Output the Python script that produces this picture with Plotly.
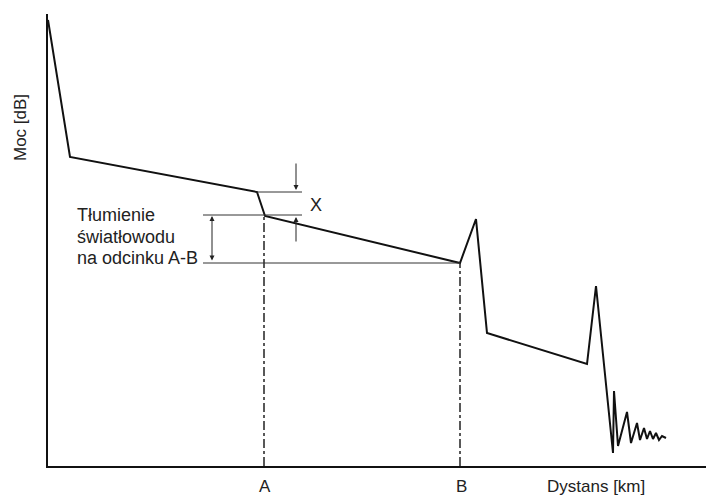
import plotly.graph_objects as go

# OTDR trace (distance, power) in arbitrary units
trace_x = [0, 22, 209, 217, 412, 428, 439, 539, 548, 565, 566, 570, 579, 583, 589,
           592, 596, 599, 602, 605, 608, 611, 614, 618]
trace_y = [446, 309, 274, 250, 203, 247, 133, 102, 180, 13, 75, 20, 54, 23, 43,
           26, 38, 27, 35, 27, 33, 26, 30, 28]

# markers A and B
point_names = ["A", "B"]
point_x = [216, 412]
point_y = [250, 203]

# level lines
level_before_A = 274
level_after_A = 251
level_B = 203

label_lines = ["Tłumienie", "światłowodu", "na odcinku A-B"]

X_MAX = 666
Y_MAX = 452
FONT = "Liberation Sans, Arial, sans-serif"
TXT = "#222222"


def px(x):
    return x / X_MAX


def py(y):
    return y / Y_MAX


fig = go.Figure()
fig.add_trace(go.Scatter(x=trace_x, y=trace_y, mode="lines",
                         line=dict(color="#111111", width=2), hoverinfo="skip"))

shapes = []
for xv, yv in zip(point_x, point_y):
    shapes.append(dict(type="line", x0=xv, x1=xv, y0=0, y1=yv,
                       line=dict(color="#222222", width=1.5, dash="dashdot")))
shapes.append(dict(type="line", x0=209, x1=254, y0=level_before_A, y1=level_before_A,
                   line=dict(color="#333333", width=1)))
shapes.append(dict(type="line", x0=155, x1=254, y0=level_after_A, y1=level_after_A,
                   line=dict(color="#333333", width=1)))
shapes.append(dict(type="line", x0=155, x1=point_x[1], y0=level_B, y1=level_B,
                   line=dict(color="#333333", width=1)))

annotations = []
annotations.append(dict(x=248, y=level_before_A + 2, ax=248, ay=level_before_A + 30,
                        xref="x", yref="y", axref="x", ayref="y", text="",
                        showarrow=True, arrowhead=2, arrowsize=1, arrowwidth=1,
                        arrowcolor="#222222"))
annotations.append(dict(x=248, y=level_after_A - 2, ax=248, ay=level_after_A - 28,
                        xref="x", yref="y", axref="x", ayref="y", text="",
                        showarrow=True, arrowhead=2, arrowsize=1, arrowwidth=1,
                        arrowcolor="#222222"))
annotations.append(dict(x=164, y=level_after_A - 1, ax=164, ay=level_B + 1,
                        xref="x", yref="y", axref="x", ayref="y", text="",
                        showarrow=True, arrowhead=2, startarrowhead=2,
                        arrowside="end+start", arrowsize=1, arrowwidth=1,
                        arrowcolor="#222222"))
annotations.append(dict(x=268, y=261, xref="x", yref="y", text="X", showarrow=False,
                        font=dict(family=FONT, size=18, color=TXT)))
for i, t in enumerate(label_lines):
    annotations.append(dict(x=27, y=251 - i * 21.5, xref="x", yref="y", text=t,
                            showarrow=False, xanchor="left", yanchor="middle",
                            font=dict(family=FONT, size=18, color=TXT)))
for n, xv in zip(point_names, point_x):
    annotations.append(dict(x=px(xv + 1), y=py(-21), xref="paper", yref="paper", text=n,
                            showarrow=False, xanchor="center", yanchor="middle",
                            font=dict(family=FONT, size=17, color=TXT)))
annotations.append(dict(x=px(548), y=py(-21), xref="paper", yref="paper",
                        text="Dystans [km]", showarrow=False,
                        xanchor="center", yanchor="middle",
                        font=dict(family=FONT, size=17, color=TXT)))
annotations.append(dict(x=px(-28), y=py(339), xref="paper", yref="paper", text="Moc [dB]",
                        textangle=-90, showarrow=False, xanchor="center", yanchor="middle",
                        font=dict(family=FONT, size=17, color=TXT)))

# the page body adds an 8 px offset, so the figure is sized to fit the window
fig.update_layout(
    width=706, height=489,
    margin=dict(l=40, r=0, t=6, b=31, autoexpand=False),
    paper_bgcolor="white", plot_bgcolor="white",
    showlegend=False,
    shapes=shapes, annotations=annotations,
    xaxis=dict(range=[0, X_MAX], showgrid=False, zeroline=False, showticklabels=False,
               ticks="", showline=True, linecolor="#111111", linewidth=2,
               automargin=False),
    yaxis=dict(range=[0, Y_MAX], showgrid=False, zeroline=False, showticklabels=False,
               ticks="", showline=True, linecolor="#111111", linewidth=2,
               automargin=False),
)

fig.write_html("out.html")
